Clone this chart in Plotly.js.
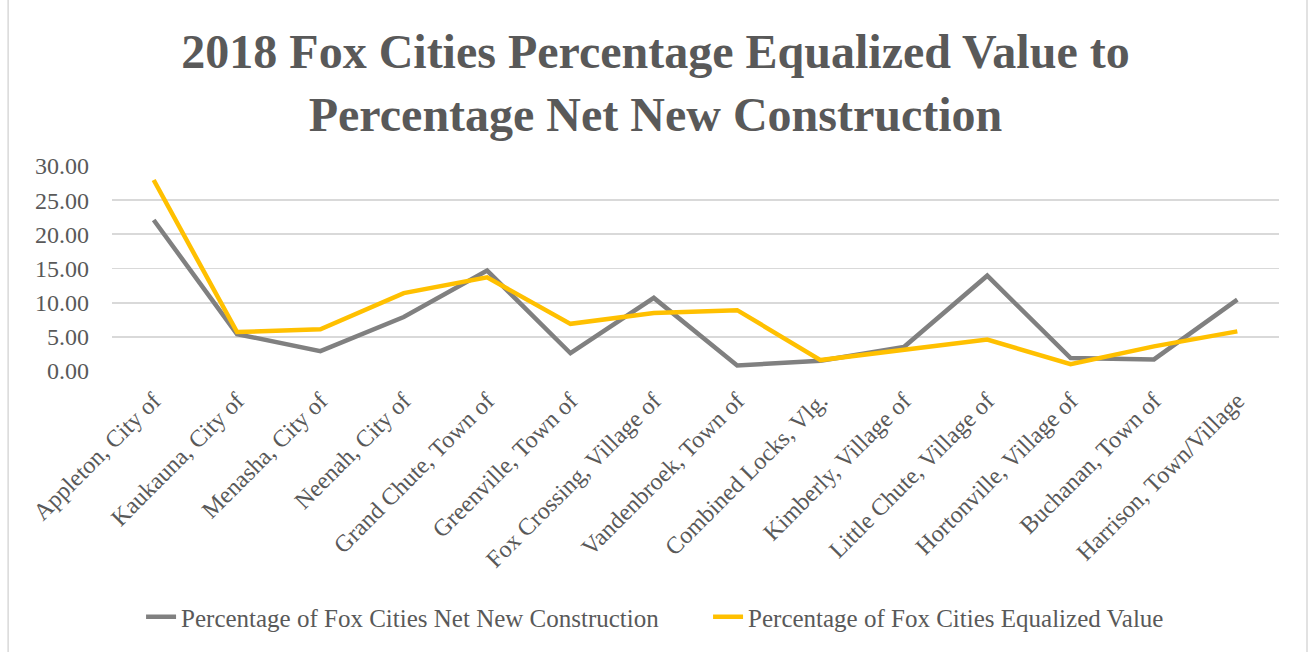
<!DOCTYPE html>
<html><head><meta charset="utf-8">
<script src="https://cdn.plot.ly/plotly-3.0.1.min.js"></script>
<style>html,body{margin:0;padding:0;background:#fff;}#chart{width:1311px;height:652px;}</style>
</head><body><div id="chart"></div>
<script>
const municipalities = ["Appleton, City of","Kaukauna, City of","Menasha, City of","Neenah, City of","Grand Chute, Town of","Greenville, Town of","Fox Crossing, Village of","Vandenbroek, Town of","Combined Locks, Vlg.","Kimberly, Village of","Little Chute, Village of","Hortonville, Village of","Buchanan, Town of","Harrison, Town/Village"];
const netNewConstruction = [22.1,5.4,2.9,7.9,14.7,2.6,10.7,0.8,1.5,3.5,13.95,1.9,1.7,10.45];
const equalizedValue = [27.95,5.7,6.1,11.4,13.7,6.9,8.5,8.9,1.6,3.1,4.6,1.0,3.6,5.8];
const seriesNames = ["Percentage of Fox Cities Net New Construction","Percentage of Fox Cities Equalized Value"];
const yTicks = [0,5,10,15,20,25,30];

const font = "Liberation Serif, Times New Roman, serif";
const txt = "#595959";
const traces = [
  {x: municipalities, y: netNewConstruction, name: seriesNames[0], type: "scatter", mode: "lines",
   line: {color: "#808080", width: 4.5}},
  {x: municipalities, y: equalizedValue, name: seriesNames[1], type: "scatter", mode: "lines",
   line: {color: "#ffc000", width: 4.5}}
];
const layout = {
  width: 1311, height: 652,
  paper_bgcolor: "#fff", plot_bgcolor: "#fff",
  margin: {l: 112, r: 32, t: 166, b: 281},
  title: {text: "<b>2018 Fox Cities Percentage Equalized Value to<br>Percentage Net New Construction</b>",
    font: {family: font, size: 48, color: txt}, x: 0.5, xanchor: "center", y: 0.895, yanchor: "top"},
  xaxis: {type: "category", range: [-0.5, municipalities.length - 0.5], tickangle: -45,
    tickfont: {family: font, size: 24, color: txt}, ticklabelstandoff: 10,
    showgrid: false, showline: false, ticks: "", zeroline: false, fixedrange: true},
  yaxis: {range: [0, 30], tickvals: yTicks, tickformat: ".2f", tickfont: {family: font, size: 24, color: txt},
    ticklabelstandoff: 22,
    gridcolor: "#d9d9d9", gridwidth: 1.8, zeroline: false, showline: false, ticks: "", ticklen: 0, fixedrange: true},
  showlegend: true,
  legend: {orientation: "h", x: 0.0249, xanchor: "left", y: -1.2, yanchor: "middle",
    font: {family: font, size: 25, color: txt}, tracegroupgap: 0, entrywidth: 522, entrywidthmode: "pixels"},
  shapes: [{type: "rect", xref: "paper", yref: "paper", x0: -0.089, x1: 1.024, y0: -1.45, y1: 2.0,
    line: {color: "#d9d9d9", width: 1.5}, fillcolor: "rgba(0,0,0,0)", layer: "below"}]
};
Plotly.newPlot("chart", traces, layout, {displayModeBar: false, staticPlot: true});
</script></body></html>
